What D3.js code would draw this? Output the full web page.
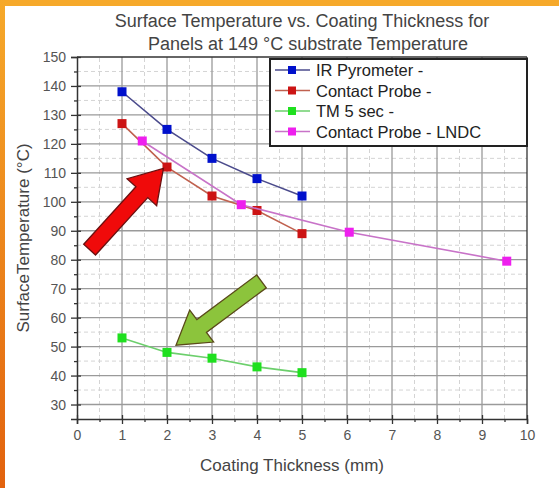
<!DOCTYPE html>
<html>
<head>
<meta charset="utf-8">
<script src="https://cdn.jsdelivr.net/npm/d3@7"></script>
<style>
  body { margin: 0; background: #fff; }
  text { font-family: "Liberation Sans", Arial, sans-serif; }
</style>
</head>
<body>
<div id="chart"></div>
<script>
// data
var irX = [1, 2, 3, 4, 5];
var irY = [138, 125, 115, 108, 102];
var cpX = [1, 2, 3, 4, 5];
var cpY = [127, 112, 102, 97, 89];
var tmX = [1, 2, 3, 4, 5];
var tmY = [53, 48, 46, 43, 41];
var lnX = [1.45, 3.65, 6.05, 9.55];
var lnY = [121, 99, 89.5, 79.5];
var seriesNames = ["IR Pyrometer -", "Contact Probe -", "TM 5 sec -", "Contact Probe - LNDC"];
var xTicks = [0, 1, 2, 3, 4, 5, 6, 7, 8, 9, 10];
var yTicks = [30, 40, 50, 60, 70, 80, 90, 100, 110, 120, 130, 140, 150];

var W = 559, H = 488;
var margin = { left: 77, right: 32, top: 57, bottom: 69 };

var svg = d3.select('#chart').append('svg')
    .attr('width', W)
    .attr('height', H);

// orange picture border (top + left)
var grad = svg.append('defs').append('linearGradient')
    .attr('id', 'edge').attr('x1', 0).attr('y1', 0).attr('x2', 0).attr('y2', 1);
grad.append('stop').attr('offset', '0%').attr('stop-color', '#f6a92a');
grad.append('stop').attr('offset', '100%').attr('stop-color', '#e2620e');
svg.append('rect').attr('x', 0).attr('y', 0).attr('width', W).attr('height', 6).attr('fill', '#f6a92a');
svg.append('rect').attr('x', 0).attr('y', 0).attr('width', 5).attr('height', H).attr('fill', 'url(#edge)');

var x = d3.scaleLinear().domain([0, 10]).range([margin.left, W - margin.right]);
var y = d3.scaleLinear().domain([25, 150]).range([H - margin.bottom, margin.top]);

// grid: minor dashed, major solid
var g = svg.append('g');
g.selectAll('.vminor').data(d3.range(0.5, 10, 1)).enter().append('line')
    .attr('x1', d => x(d)).attr('x2', d => x(d))
    .attr('y1', y(25)).attr('y2', y(150))
    .attr('stroke', '#d4d4d4').attr('stroke-dasharray', '4,3').attr('stroke-width', 1);
g.selectAll('.hminor').data(d3.range(35, 150, 10)).enter().append('line')
    .attr('x1', x(0)).attr('x2', x(10))
    .attr('y1', d => y(d)).attr('y2', d => y(d))
    .attr('stroke', '#d4d4d4').attr('stroke-dasharray', '4,3').attr('stroke-width', 1);
g.selectAll('.vmajor').data(d3.range(1, 10)).enter().append('line')
    .attr('x1', d => x(d)).attr('x2', d => x(d))
    .attr('y1', y(25)).attr('y2', y(150))
    .attr('stroke', '#9a9a9a').attr('stroke-width', 1.3);
g.selectAll('.hmajor').data(yTicks.filter(d => d < 150)).enter().append('line')
    .attr('x1', x(0)).attr('x2', x(10))
    .attr('y1', d => y(d)).attr('y2', d => y(d))
    .attr('stroke', '#9a9a9a').attr('stroke-width', 1.3);

// frame top / right
svg.append('line').attr('x1', x(0)).attr('x2', x(10)).attr('y1', y(150)).attr('y2', y(150))
    .attr('stroke', '#333').attr('stroke-width', 1.3);
svg.append('line').attr('x1', x(10)).attr('x2', x(10)).attr('y1', y(150)).attr('y2', y(25))
    .attr('stroke', '#333').attr('stroke-width', 1.3);

// axes
var xAxis = svg.append('g')
    .attr('transform', 'translate(0,' + y(25) + ')')
    .call(d3.axisBottom(x).tickValues(xTicks).tickSize(5).tickPadding(6).tickFormat(d3.format('d')));
svg.append('g')
    .attr('transform', 'translate(0,' + y(25) + ')')
    .call(d3.axisBottom(x).tickValues(d3.range(0.5, 10, 1)).tickSize(3).tickFormat(''))
    .select('.domain').remove();
var yAxis = svg.append('g')
    .attr('transform', 'translate(' + x(0) + ',0)')
    .call(d3.axisLeft(y).tickValues(yTicks).tickSize(6).tickPadding(5));
svg.append('g')
    .attr('transform', 'translate(' + x(0) + ',0)')
    .call(d3.axisLeft(y).tickValues(d3.range(35, 150, 10)).tickSize(3).tickFormat(''))
    .select('.domain').remove();
svg.selectAll('.domain').attr('stroke', '#333').attr('stroke-width', 1.5);
svg.selectAll('.tick line').attr('stroke', '#333').attr('stroke-width', 1.3);
svg.selectAll('.tick text').attr('fill', '#555').style('font-size', '14px')
    .style('font-family', '"Liberation Sans", Arial, sans-serif');
// ticks also go a bit inside (cross ticks)
xAxis.selectAll('.tick line').attr('y1', -4);
yAxis.selectAll('.tick line').attr('x1', 4);

// titles
svg.append('text').attr('x', 302).attr('y', 27).attr('text-anchor', 'middle')
    .attr('fill', '#444').style('font-size', '18px')
    .text('Surface Temperature vs. Coating Thickness for');
svg.append('text').attr('x', 308).attr('y', 50).attr('text-anchor', 'middle')
    .attr('fill', '#444').style('font-size', '18px')
    .text('Panels at 149 °C substrate Temperature');
svg.append('text').attr('x', 292).attr('y', 471).attr('text-anchor', 'middle')
    .attr('fill', '#444').style('font-size', '17px')
    .text('Coating Thickness (mm)');
svg.append('text')
    .attr('transform', 'translate(29,' + (y(87.5)) + ') rotate(-90)')
    .attr('text-anchor', 'middle')
    .attr('fill', '#444').style('font-size', '17px')
    .text('SurfaceTemperature (°C)');

// series
var series = [
    { xs: irX, ys: irY, line: '#4b4b8c', mark: '#0010cc' },
    { xs: cpX, ys: cpY, line: '#c0614f', mark: '#cc1414' },
    { xs: tmX, ys: tmY, line: '#6ccf6c', mark: '#1fe01f' },
    { xs: lnX, ys: lnY, line: '#c873c8', mark: '#ee1fee' }
];
var line = d3.line().x(d => x(d[0])).y(d => y(d[1]));
series.forEach(function (s) {
    var pts = s.xs.map((v, i) => [v, s.ys[i]]);
    svg.append('path').datum(pts)
        .attr('d', line).attr('fill', 'none')
        .attr('stroke', s.line).attr('stroke-width', 1.6);
    svg.selectAll(null).data(pts).enter().append('rect')
        .attr('x', d => x(d[0]) - 4.5).attr('y', d => y(d[1]) - 4.5)
        .attr('width', 9).attr('height', 9)
        .attr('fill', s.mark);
});

// legend
var leg = svg.append('g');
leg.append('rect').attr('x', 270).attr('y', 59).attr('width', x(10) - 270).attr('height', 87)
    .attr('fill', '#fff').attr('stroke', '#222').attr('stroke-width', 2);
seriesNames.forEach(function (name, i) {
    var ly = 70 + i * 20.5;
    leg.append('line').attr('x1', 275).attr('x2', 310).attr('y1', ly).attr('y2', ly)
        .attr('stroke', series[i].line).attr('stroke-width', 1.6);
    leg.append('rect').attr('x', 288).attr('y', ly - 4).attr('width', 8).attr('height', 8)
        .attr('fill', series[i].mark);
    leg.append('text').attr('x', 316).attr('y', ly + 6)
        .attr('fill', '#222').style('font-size', '16.5px').text(name);
});

// annotation arrows, given in data coordinates
function arrow(from, to, fill, stroke) {
    var x0 = x(from[0]), y0 = y(from[1]), x1 = x(to[0]), y1 = y(to[1]);
    var len = Math.hypot(x1 - x0, y1 - y0);
    var ang = Math.atan2(y1 - y0, x1 - x0) * 180 / Math.PI;
    var sw = 8, hw = 20, hl = 32;
    var p = [[0, -sw], [len - hl, -sw], [len - hl, -hw], [len, 0], [len - hl, hw], [len - hl, sw], [0, sw]];
    svg.append('polygon')
        .attr('points', p.map(q => q.join(',')).join(' '))
        .attr('transform', 'translate(' + x0 + ',' + y0 + ') rotate(' + ang + ')')
        .attr('fill', fill).attr('stroke', stroke).attr('stroke-width', 1.3);
}
arrow([0.28, 83.5], [1.92, 111.5], '#f00a0a', '#6a1010');
arrow([4.1, 72.5], [2.2, 50.5], '#8cc43c', '#5a4a1a');
</script>
</body>
</html>
